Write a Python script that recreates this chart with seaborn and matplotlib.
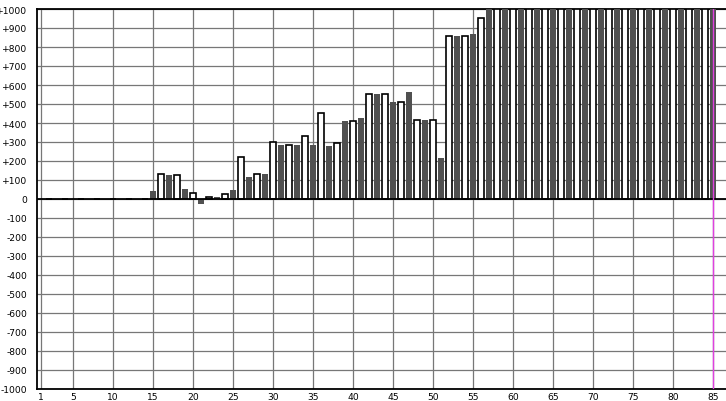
import numpy as np
import pandas as pd
import matplotlib
matplotlib.use("Agg")
import matplotlib.pyplot as plt
import seaborn as sns

# values, one bar per position 1..85
positions = list(range(1, 86))
values = [0] * 14 + [
    40, 133, 128, 128, 54, 33, -25, 12, 10, 28,        # 15-24
    49, 222, 117, 133, 131, 298, 284, 283, 284, 330,   # 25-34
    284, 453, 279, 295, 410, 409, 426, 552, 552, 552,  # 35-44
    510, 508, 563, 415, 415, 415, 216, 856, 856, 856,  # 45-54
    870, 951,                                          # 55-56
] + [1000] * 29                                        # 57-85

x_ticks = [1, 5, 10, 15, 20, 25, 30, 35, 40, 45, 50, 55, 60, 65, 70, 75, 80, 85]
y_ticks = list(range(-1000, 1001, 100))
y_labels = [("+%d" % v) if v > 0 else str(v) for v in y_ticks]

df = pd.DataFrame({"pos": positions, "value": values})
df["kind"] = np.where(df["pos"] % 2 == 1, "dark", "light")

sns.set_style("white")
plt.rcParams["font.family"] = ["DejaVu Sans"]

fig = plt.figure(figsize=(7.26, 4.02), dpi=100)
ax = fig.add_axes([37 / 726, 12 / 402, 1 - 37 / 726, 380 / 402])

sns.barplot(data=df, x="pos", y="value", hue="kind", native_scale=True,
            dodge=False, width=0.75, legend=False,
            palette={"dark": "#505050", "light": "white"}, ax=ax, zorder=3)

# white bars get a black outline
for p in ax.patches:
    fc = p.get_facecolor()
    if fc[0] > 0.9:
        p.set_edgecolor("black")
        p.set_linewidth(1.2)
    else:
        p.set_edgecolor("none")

ax.set_xlim(0.5, 86.625)
ax.set_ylim(-1000, 1000)
ax.set_xticks(x_ticks)
ax.set_xticklabels([str(t) for t in x_ticks])
ax.set_yticks(y_ticks)
ax.set_yticklabels(y_labels)
ax.tick_params(axis="both", length=0, labelsize=6.6, colors="black")
ax.tick_params(axis="y", pad=7)
ax.tick_params(axis="x", pad=2)

ax.grid(True, color="#777777", linewidth=0.9, zorder=0)
ax.set_axisbelow(True)
ax.axhline(0, color="black", linewidth=1.3, zorder=4)
ax.axvline(85, color="#e040e0", linewidth=1.0, zorder=5)

for side in ["top", "bottom", "left"]:
    ax.spines[side].set_color("black")
    ax.spines[side].set_linewidth(1.3)
ax.spines["right"].set_visible(False)

ax.set_xlabel("")
ax.set_ylabel("")

fig.savefig("out.png", dpi=100)
